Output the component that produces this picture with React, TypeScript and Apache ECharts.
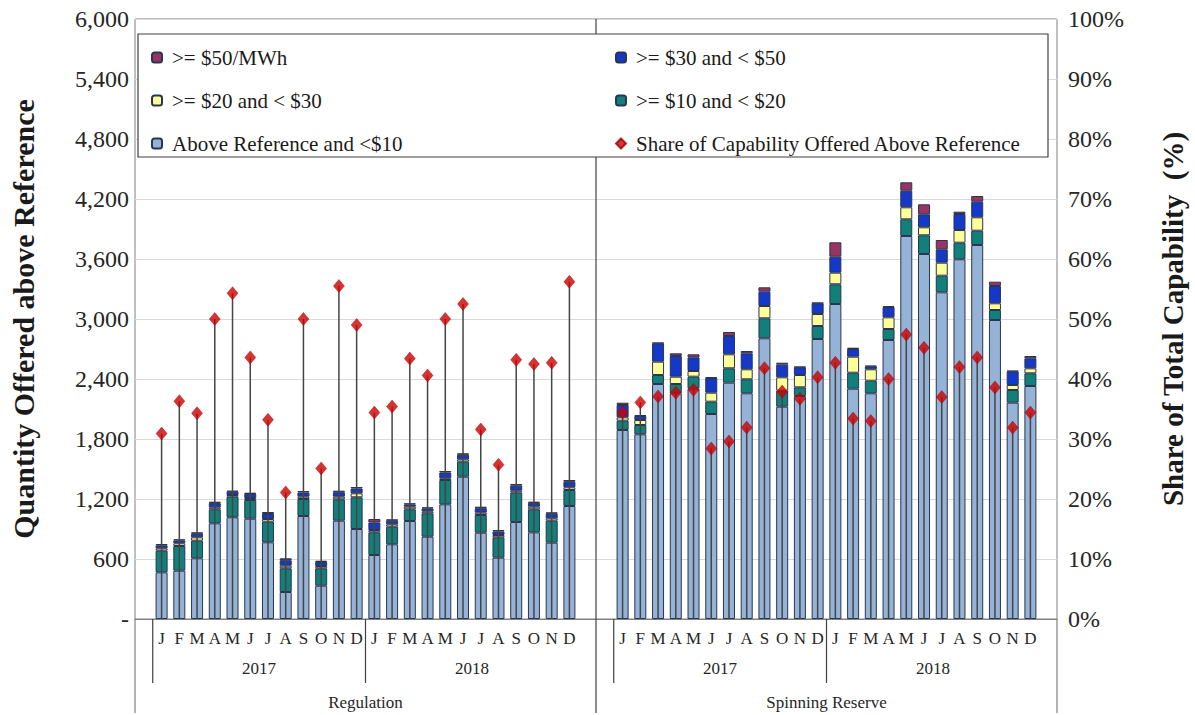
import React, { useEffect, useRef } from "react";
import * as echarts from "echarts";

// ---- categories / labels ----
const months = ["J", "F", "M", "A", "M", "J", "J", "A", "S", "O", "N", "D"];
const years = ["2017", "2018"];
const groups = ["Regulation", "Spinning Reserve"];

const NAME_P50 = ">= $50/MWh";
const NAME_B30 = ">= $30 and < $50";
const NAME_Y20 = ">= $20 and < $30";
const NAME_T10 = ">= $10 and < $20";
const NAME_LB = "Above Reference and <$10";
const NAME_SHARE = "Share of Capability Offered Above Reference";

// ---- Regulation (Jan 2017 .. Dec 2018), MW ----
const regBase = [467, 483, 607, 957, 1017, 1003, 767, 270, 1030, 333, 983, 900, 640, 747, 980, 823, 1147, 1423, 863, 613, 970, 867, 763, 1130];
const regTeal = [216, 247, 176, 140, 206, 187, 206, 237, 170, 174, 214, 317, 227, 176, 117, 234, 243, 150, 177, 204, 293, 230, 220, 160];
const regYellow = [24, 27, 34, 20, 17, 20, 27, 26, 23, 23, 26, 40, 23, 24, 26, 20, 17, 24, 23, 23, 20, 26, 24, 27];
const regBlue = [30, 28, 35, 42, 32, 40, 50, 55, 42, 40, 45, 48, 75, 35, 22, 28, 58, 45, 45, 35, 50, 38, 45, 55];
const regPurple = [13, 12, 15, 14, 11, 13, 20, 19, 15, 13, 15, 15, 35, 15, 12, 12, 15, 15, 15, 15, 17, 12, 15, 18];
const regShare = [30.9, 36.3, 34.3, 50.0, 54.3, 43.6, 33.2, 21.1, 50.0, 25.1, 55.5, 49.0, 34.4, 35.4, 43.4, 40.6, 50.0, 52.5, 31.6, 25.7, 43.2, 42.5, 42.7, 56.2];

// ---- Spinning Reserve (Jan 2017 .. Dec 2018), MW ----
const spinBase = [1890, 1847, 2350, 2257, 2303, 2050, 2363, 2257, 2807, 2123, 2230, 2800, 3150, 2303, 2257, 2790, 3830, 3650, 3267, 3597, 3740, 2990, 2163, 2330];
const spinTeal = [93, 93, 90, 93, 120, 123, 144, 140, 200, 160, 87, 130, 197, 160, 126, 110, 167, 187, 166, 166, 143, 100, 127, 127];
const spinYellow = [34, 50, 133, 73, 57, 90, 140, 100, 123, 134, 123, 120, 116, 160, 114, 117, 120, 80, 130, 127, 134, 67, 50, 50];
const spinBlue = [123, 40, 184, 207, 137, 147, 183, 160, 143, 126, 77, 107, 160, 77, 28, 103, 166, 130, 134, 160, 156, 173, 135, 100];
const spinPurple = [23, 10, 6, 27, 30, 7, 40, 23, 44, 20, 6, 6, 144, 13, 8, 10, 84, 100, 93, 23, 57, 43, 8, 23];
const spinShare = [34.4, 36.1, 37.1, 37.7, 38.2, 28.4, 29.6, 31.9, 41.8, 37.9, 36.7, 40.3, 42.7, 33.4, 33.0, 40.0, 47.4, 45.2, 37.0, 42.0, 43.6, 38.6, 31.9, 34.4];

// one blank slot at each end, two blank slots between the groups
const full = (reg: (number | null)[], spin: (number | null)[]) => [null, ...reg, null, null, ...spin, null];
const categories = ["", ...months, ...months, "", "", ...months, ...months, ""];

const SERIF = "'Liberation Serif', 'Times New Roman', serif";
const BORDER = "#2a3550";

export default function App() {
  const ref = useRef<HTMLDivElement>(null);

  useEffect(() => {
    if (!ref.current) return;
    const chart = echarts.init(ref.current, null, { renderer: "svg" });

    const shareFull = full(regShare.map((v) => v / 100), spinShare.map((v) => v / 100));
    const shareData: [number, number][] = [];
    shareFull.forEach((v, i) => {
      if (v !== null) shareData.push([i, v]);
    });

    const barSeries = (name: string, data: (number | null)[], color: string) => ({
      name,
      type: "bar",
      stack: "q",
      data,
      barWidth: 12,
      itemStyle: { color, borderColor: BORDER, borderWidth: 1 },
      z: 2,
    });

    const legendText = { fontFamily: SERIF, fontSize: 21, color: "#1a1a1a", padding: [0, 0, 0, 5] };

    chart.setOption({
      animation: false,
      backgroundColor: "#ffffff",
      grid: {
        left: 133,
        right: 131,
        top: 19,
        bottom: 96,
        show: true,
        borderColor: "#808080",
        borderWidth: 1,
        backgroundColor: "transparent",
      },
      legend: [
        {
          data: [NAME_P50, NAME_Y20, NAME_LB],
          orient: "vertical",
          left: 146,
          top: 42,
          itemGap: 22,
          itemWidth: 10,
          itemHeight: 10,
          textStyle: legendText,
          selectedMode: false,
          z: 20,
        },
        {
          data: [NAME_B30, NAME_T10, { name: NAME_SHARE, icon: "diamond" }],
          orient: "vertical",
          left: 610,
          top: 42,
          itemGap: 22,
          itemWidth: 10,
          itemHeight: 10,
          textStyle: legendText,
          selectedMode: false,
          z: 20,
        },
      ],
      xAxis: {
        type: "category",
        data: categories,
        boundaryGap: true,
        axisLine: { show: true, lineStyle: { color: "#808080" } },
        axisTick: { show: false },
        axisLabel: { interval: 0, fontFamily: SERIF, fontSize: 17, color: "#262626", margin: 11 },
        splitLine: { show: false },
      },
      yAxis: [
        {
          type: "value",
          min: 0,
          max: 6000,
          interval: 600,
          name: "Quantity Offered above Reference",
          nameLocation: "middle",
          nameGap: 97,
          nameRotate: 90,
          nameTextStyle: { fontFamily: SERIF, fontSize: 30, fontWeight: "bold", color: "#1a1a1a" },
          axisLine: { show: false },
          axisTick: { show: false },
          axisLabel: {
            fontFamily: SERIF,
            fontSize: 24,
            color: "#262626",
            margin: 6,
            formatter: (v: number) => (v === 0 ? "-" : v.toLocaleString("en-US")),
          },
          splitLine: { show: true, lineStyle: { color: "#d9d9d9", width: 1 } },
        },
        {
          type: "value",
          min: 0,
          max: 1,
          interval: 0.1,
          position: "right",
          name: "Share of Total Capability  (%)",
          nameLocation: "middle",
          nameGap: 101,
          nameRotate: 90,
          nameTextStyle: { fontFamily: SERIF, fontSize: 29, fontWeight: "bold", color: "#1a1a1a" },
          axisLine: { show: false },
          axisTick: { show: false },
          axisLabel: {
            fontFamily: SERIF,
            fontSize: 24,
            color: "#262626",
            margin: 11,
            formatter: (v: number) => Math.round(v * 100) + "%",
          },
          splitLine: { show: false },
        },
      ],
      series: [
        barSeries(NAME_LB, full(regBase, spinBase), "#95b3d7"),
        barSeries(NAME_T10, full(regTeal, spinTeal), "#11807a"),
        barSeries(NAME_Y20, full(regYellow, spinYellow), "#ffff99"),
        barSeries(NAME_B30, full(regBlue, spinBlue), "#1438c8"),
        barSeries(NAME_P50, full(regPurple, spinPurple), "#993366"),
        {
          name: "dropLines",
          type: "custom",
          yAxisIndex: 1,
          data: shareData,
          encode: { x: 0, y: 1 },
          z: 3,
          renderItem: (_params: any, api: any) => {
            const x = api.value(0);
            const y = api.value(1);
            const top = api.coord([x, y]);
            const base = api.coord([x, 0]);
            return {
              type: "line",
              shape: { x1: top[0], y1: top[1], x2: base[0], y2: base[1] },
              style: { stroke: "#454545", lineWidth: 1.5 },
            };
          },
        },
        {
          name: NAME_SHARE,
          type: "scatter",
          yAxisIndex: 1,
          data: shareData,
          symbol: "diamond",
          symbolSize: [11, 13],
          itemStyle: { color: "#cc0000", borderColor: "#a00000", borderWidth: 0.5 },
          z: 4,
        },
      ],
    });

    // separators and multi-level category labels, positioned from the axis
    const px = (i: number) => chart.convertToPixel({ xAxisIndex: 0 }, i) as number;
    const half = (px(1) - px(0)) / 2;
    const edge = (i: number) => px(i) - half;
    const yTop = chart.convertToPixel({ yAxisIndex: 0 }, 6000) as number;
    const yBot = chart.convertToPixel({ yAxisIndex: 0 }, 0) as number;
    const gridLeft = edge(0);
    const gridRight = edge(51) + 2 * half;

    const g: any[] = [];
    const line = (x: number, y1: number, y2: number, color: string, z = 1) =>
      g.push({ type: "line", z, shape: { x1: x, y1, x2: x, y2 }, style: { stroke: color, lineWidth: 1.2 } });
    const text = (t: string, x: number, y: number, size: number) =>
      g.push({
        type: "text",
        z: 1,
        x,
        y,
        style: { text: t, align: "center", verticalAlign: "middle", fontFamily: SERIF, fontSize: size, fill: "#262626" },
      });

    // group-level lines
    line(gridLeft, yBot, yBot + 94, "#808080");
    line(gridRight, yBot, yBot + 94, "#808080");
    line(edge(26), yTop, yBot + 94, "#404040");
    // year-level lines
    [1, 13, 27, 39].forEach((i) => line(edge(i), yBot, yBot + 64, "#404040"));
    // year labels
    const yearStarts = [1, 13, 27, 39];
    yearStarts.forEach((s, k) => text(years[k % 2], (edge(s) + edge(s + 12)) / 2, yBot + 49, 17));
    // group labels
    text(groups[0], (gridLeft + edge(26)) / 2, yBot + 83, 17);
    text(groups[1], (edge(26) + gridRight) / 2, yBot + 83, 17);
    // legend frame
    g.push({
      type: "rect",
      z: 15,
      shape: { x: gridLeft + 3, y: yTop + 15, width: gridRight - gridLeft - 12, height: 123 },
      style: { fill: "#ffffff", stroke: "#404040", lineWidth: 1.2 },
    });

    chart.setOption({ graphic: g });

    return () => chart.dispose();
  }, []);

  return <div ref={ref} style={{ width: 1195, height: 715, position: "absolute", left: 0, top: 0 }} />;
}
